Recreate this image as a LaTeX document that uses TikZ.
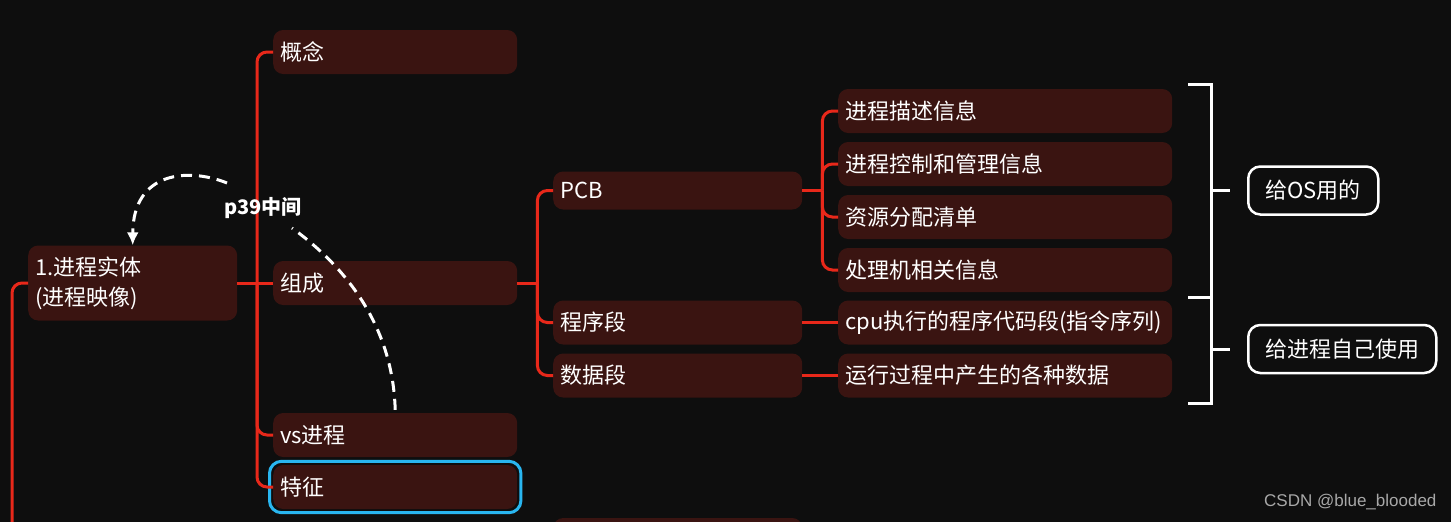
\documentclass[tikz,border=0pt]{standalone}
\usepackage{fontspec}
\usepackage{xcolor}
\usepackage{tikz}
\usetikzlibrary{arrows.meta}
\usetikzlibrary{fit}
\newfontfamily\cjk{Noto Sans CJK SC}
\newfontfamily\wmfont{Liberation Sans}
\definecolor{bg}{HTML}{0E0E0E}
\definecolor{boxred}{HTML}{3A1411}
\definecolor{linkred}{HTML}{E8281A}
\definecolor{selblue}{HTML}{29B6F0}
\definecolor{wmgray}{HTML}{A8A8A8}
\tikzstyle{b} = [rectangle, rounded corners=10pt, fill=boxred, text=white, anchor=west, align=left, inner xsep=7pt, inner ysep=0pt, minimum height=44pt, font=\cjk\fontsize{22}{30}\selectfont]
\tikzstyle{w} = [rectangle, rounded corners=12pt, draw=white, line width=2.5pt, fill=bg, text=white, anchor=west, minimum height=48pt, font=\cjk\fontsize{22}{25}\selectfont]
\tikzstyle{link} = [draw=linkred, line width=3pt, rounded corners=10pt]
\tikzstyle{br} = [draw=white, line width=3pt]
\tikzstyle{note} = [draw=white, line width=3pt, dash pattern=on 11pt off 7pt]

\begin{document}
\begin{tikzpicture}[x=1pt,y=-1pt]
    \useasboundingbox (0,0) rectangle (1451,522);
    \fill[bg] (0,0) rectangle (1451,522);
    \clip (0,0) rectangle (1451,522);
    % first level
    \node[b, text width=195pt, minimum height=75pt] (root) at (28,283) {1.进程实体\\(进程映像)};
    \node[b, text width=230pt] (gn) at (273,52) {概念};
    \node[b, text width=230pt] (zc) at (273,283) {组成};
    \node[b, text width=230pt] (vs) at (273,435) {vs进程};
    \node[b, text width=230pt] (tz) at (273,487) {特征};
    \node[fit=(tz), inner sep=3.5pt, draw=selblue, line width=3pt, rounded corners=12pt] (sel) {};
    % second level
    \node[b, text width=235pt, minimum height=38pt] (pcb) at (553,190.5) {PCB};
    \node[b, text width=235pt] (cx) at (553,322.5) {程序段};
    \node[b, text width=235pt] (sj) at (553,375.5) {数据段};
    \node[b, text width=235pt] (nx) at (553,540) {};
    % third level
    \node[b, text width=320pt] (ms) at (838,111) {进程描述信息};
    \node[b, text width=320pt] (kz) at (838,164) {进程控制和管理信息};
    \node[b, text width=320pt] (zy) at (838,217) {资源分配清单};
    \node[b, text width=320pt] (cl) at (838,270) {处理机相关信息};
    \node[b, text width=320pt] (cpu) at (838,322.5) {cpu执行的程序代码段(指令序列)};
    \node[b, text width=320pt] (yx) at (838,375.5) {运行过程中产生的各种数据};

    \draw[link] (root.west) -- ++(-16,0) -- ++(0,300);
    \draw[link] (root.east) -- (zc.west);
    \coordinate (j0) at (257,283);
    \foreach \c in {gn,vs,tz}
        \draw[link] (j0) |- (\c.west);
    \draw[link] (zc.east) -- ++(20,0) coordinate (j1);
    \foreach \c in {pcb,cx,sj}
        \draw[link] (j1) |- (\c.west);
    \draw[link] (pcb.east) -- ++(20,0) coordinate (j2);
    \foreach \c in {ms,kz,zy,cl}
        \draw[link] (j2) |- (\c.west);
    \draw[link] (cx.east) -- (cpu.west);
    \draw[link] (sj.east) -- (yx.west);

    % brackets
    \node[w, minimum width=130pt] (os) at (1247,190.5) {给OS用的};
    \node[w, minimum width=188pt] (self) at (1247,349) {给进程自己使用};
    \draw[br] (1188,84) -- (1211,84) -- (1211,403) -- (1188,403);
    \draw[br] (1188,297) -- (1211,297);
    \draw[br] (1211,190.5) -- ([xshift=-17pt]os.west);
    \draw[br] (1211,349) -- ([xshift=-17pt]self.west);

    % page note
    \node[text=white, font=\cjk\bfseries\fontsize{20}{22}\selectfont, inner sep=0pt] (p39) at (263,208) {p39中间};
    \draw[note] ([yshift=3pt]vs.north) .. controls (393,330) and (350,270) .. ([shift={(29,20)}]p39.center);
    \draw[note, -{Latex[length=13pt,width=12pt]}] ([shift={(-36,-25)}]p39.center) .. controls (190,168) and (133,170) .. (root.north);

    \node[anchor=west, text=wmgray, font=\wmfont\fontsize{17}{20}\selectfont, inner sep=0pt] (wm) at (1264,502) {CSDN @blue\_blooded};
\end{tikzpicture}
\end{document}
